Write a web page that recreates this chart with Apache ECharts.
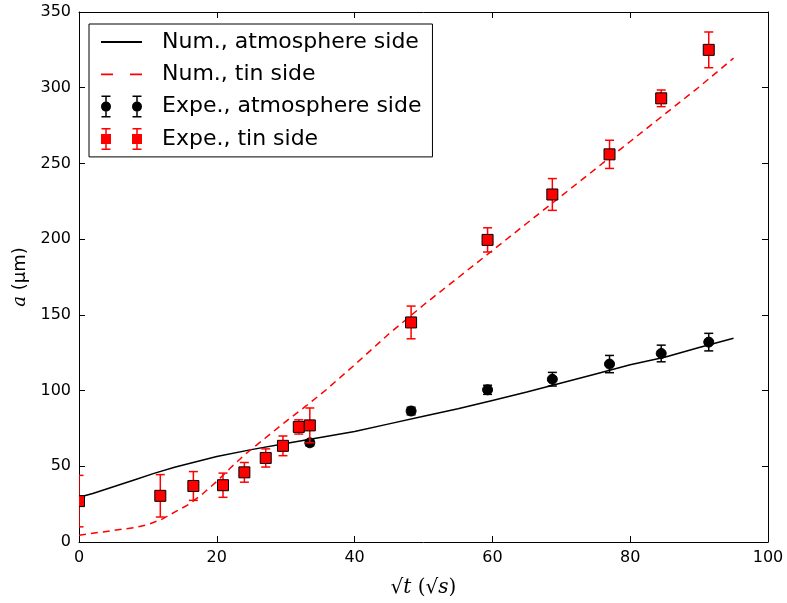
<!DOCTYPE html>
<html>
<head>
<meta charset="utf-8">
<script src="https://cdn.jsdelivr.net/npm/echarts@6/dist/echarts.min.js"></script>
<style>html,body{margin:0;padding:0;background:#fff}#c{width:787px;height:603px}</style>
</head>
<body>
<div id="c"></div>
<script>
// Numerical curves
const numAtmX = [0, 2, 5, 8, 11, 14, 17, 20, 25, 30, 35, 40, 45, 50, 55, 60, 65, 70, 75, 80, 85, 90, 95];
const numAtmY = [29.5, 32, 36.5, 41, 45.5, 49.5, 53, 56.5, 61, 65, 69, 73, 78, 83, 88, 93.5, 99, 105, 111, 117, 122, 128.5, 134.5];
const numTinX = [0, 4, 8, 10, 12, 14, 16, 18, 20, 22, 24, 27, 30, 33, 36, 40, 45, 50, 55, 60, 65, 70, 75, 80, 85, 90, 95];
const numTinY = [4.5, 7, 9.5, 11.5, 15, 20, 25, 32, 40, 49, 57.5, 68.5, 79.5, 90, 101, 117, 137.5, 156.5, 174.5, 192.5, 210.5, 228.5, 246.5, 264.5, 282.5, 300.5, 319.5];
// Experimental data
const expAtmX = [33.5, 48.2, 59.3, 68.7, 77.0, 84.5, 91.4];
const expAtmY = [65.5, 86.5, 100.5, 107.5, 117.5, 124.5, 132];
const expAtmErr = [2, 2.5, 3, 4.5, 5.7, 5.5, 5.8];
const expTinX = [0, 11.8, 16.6, 20.9, 24.0, 27.1, 29.6, 31.9, 33.5, 48.2, 59.3, 68.7, 77.0, 84.5, 91.4];
const expTinY = [27, 30.5, 37, 37.5, 46, 55.5, 63.5, 76, 77, 145, 199.5, 229.5, 256, 293, 325];
const expTinErr = [17, 14, 9.5, 8, 6.5, 6, 6.5, 4.7, 11.5, 10.8, 8, 10.5, 9.3, 5.5, 11.8];
const xTicks = [0, 20, 40, 60, 80, 100];
const yTicks = [0, 50, 100, 150, 200, 250, 300, 350];

const names = ['Num., atmosphere side', 'Num., tin side', 'Expe., atmosphere side', 'Expe., tin side'];

function zip2(a, b) { return a.map((v, i) => [v, b[i]]); }
function zip3(a, b, c) { return a.map((v, i) => [v, b[i], c[i]]); }

function errIcon(marker) {
  let d = '';
  [5, 36].forEach(cx => {
    d += `M${cx-4.5},0h9v1.5h-9Z`;
    d += `M${cx-0.75},0h1.5v22h-1.5Z`;
    d += `M${cx-4.5},20.5h9v1.5h-9Z`;
    if (marker === 'circle') {
      d += `M${cx+5},11A5,5 0 1,1 ${cx-5},11A5,5 0 1,1 ${cx+5},11Z`;
    } else {
      d += `M${cx-5},6h10v10h-10Z`;
    }
  });
  return 'path://' + d;
}

function errRender(color, shape) {
  return function (params, api) {
    const x = api.value(0), y = api.value(1), e = api.value(2);
    const p = api.coord([x, y]);
    const t = api.coord([x, y + e]);
    const b = api.coord([x, y - e]);
    const cap = 4.5;
    const ls = { stroke: color, lineWidth: 1.5 };
    const children = [
      { type: 'line', shape: { x1: p[0], y1: t[1], x2: p[0], y2: b[1] }, style: ls },
      { type: 'line', shape: { x1: p[0] - cap, y1: t[1], x2: p[0] + cap, y2: t[1] }, style: ls },
      { type: 'line', shape: { x1: p[0] - cap, y1: b[1], x2: p[0] + cap, y2: b[1] }, style: ls }
    ];
    if (shape === 'circle') {
      children.push({ type: 'circle', shape: { cx: p[0], cy: p[1], r: 5 }, style: { fill: '#000', stroke: '#000', lineWidth: 1 } });
    } else {
      children.push({ type: 'rect', shape: { x: p[0] - 5.5, y: p[1] - 5.5, width: 11, height: 11 }, style: { fill: '#ff0000', stroke: '#000', lineWidth: 1 } });
    }
    return { type: 'group', children };
  };
}

const font = 'DejaVu Sans';
const chart = echarts.init(document.getElementById('c'), null, { renderer: 'canvas' });
const axisCommon = {
  type: 'value',
  axisLine: { show: true, onZero: false, lineStyle: { color: '#000', width: 1 } },
  axisTick: { show: true, inside: true, length: 6, lineStyle: { color: '#000', width: 1 } },
  splitLine: { show: false }
};
chart.setOption({
  animation: false,
  backgroundColor: '#fff',
  grid: { left: 79, right: 19, top: 12, bottom: 56, containLabel: false },
  legend: {
    orient: 'vertical', left: 89, top: 24,
    borderColor: '#000', borderWidth: 1, borderRadius: 0,
    padding: [7, 11, 7, 12],
    itemWidth: 41, itemHeight: 22, itemGap: 10.3,
    textStyle: { fontFamily: font, fontSize: 22, color: '#000', lineHeight: 22, padding: [0, 0, 0, 15] },
    data: [
      { name: names[0], icon: 'path://M0,0h34v1.5h-34Z' },
      { name: names[1], icon: 'path://M0,0h10v1.5h-10ZM24,0h10v1.5h-10Z' },
      { name: names[2], icon: errIcon('circle') },
      { name: names[3], icon: errIcon('rect') }
    ]
  },
  xAxis: [
    Object.assign({}, axisCommon, {
      min: 0, max: 100, interval: 20, position: 'bottom',
      axisLabel: { color: '#000', fontFamily: font, fontSize: 16, margin: 8 },
      name: '{r|√}{i|t} ({r|√}{i|s})', nameLocation: 'middle', nameGap: 36,
      nameTextStyle: { color: '#000', fontFamily: 'DejaVu Serif', fontSize: 20,
        rich: { r: { fontFamily: 'DejaVu Serif', fontSize: 20, color: '#000' },
                i: { fontFamily: 'DejaVu Serif', fontStyle: 'italic', fontSize: 20, color: '#000' } } }
    }),
    Object.assign({}, axisCommon, { min: 0, max: 100, interval: 20, position: 'top', axisLabel: { show: false } })
  ],
  yAxis: [
    Object.assign({}, axisCommon, {
      min: 0, max: 350, interval: 50, position: 'left',
      axisLabel: { color: '#000', fontFamily: font, fontSize: 16, margin: 8 },
      name: '{i|a} (μm)', nameLocation: 'middle', nameGap: 50,
      nameTextStyle: { color: '#000', fontFamily: font, fontSize: 18,
        rich: { i: { fontFamily: 'DejaVu Serif', fontStyle: 'italic', fontSize: 18, color: '#000' } } }
    }),
    Object.assign({}, axisCommon, { min: 0, max: 350, interval: 50, position: 'right', axisLabel: { show: false } })
  ],
  series: [
    { name: names[0], type: 'line', symbol: 'none', data: zip2(numAtmX, numAtmY),
      itemStyle: { color: '#000' }, lineStyle: { color: '#000', width: 1.5 }, z: 2 },
    { name: names[1], type: 'line', symbol: 'none', data: zip2(numTinX, numTinY),
      itemStyle: { color: '#ff0000' }, lineStyle: { color: '#ff0000', width: 1.5, type: [7, 5] }, z: 2 },
    { name: names[2], type: 'custom', data: zip3(expAtmX, expAtmY, expAtmErr), clip: true,
      itemStyle: { color: '#000' }, renderItem: errRender('#000', 'circle'), encode: { x: 0, y: 1 }, z: 3 },
    { name: names[3], type: 'custom', data: zip3(expTinX, expTinY, expTinErr), clip: true,
      itemStyle: { color: '#ff0000' }, renderItem: errRender('#ff0000', 'rect'), encode: { x: 0, y: 1 }, z: 4 }
  ]
});
</script>
</body>
</html>
